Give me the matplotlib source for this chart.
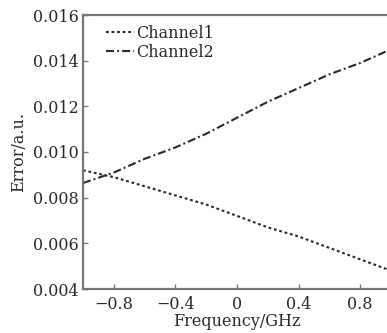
import matplotlib
matplotlib.use("Agg")
import matplotlib.pyplot as plt

freq = [-1.0, -0.8, -0.6, -0.4, -0.2, 0.0, 0.2, 0.4, 0.6, 0.8, 1.0]
channel1 = [0.0092, 0.0089, 0.0085, 0.0081, 0.0077, 0.0072, 0.0067, 0.0063, 0.0058, 0.0053, 0.0048]
channel2 = [0.00864, 0.0091, 0.0097, 0.0102, 0.0108, 0.0115, 0.0122, 0.0128, 0.0134, 0.0139, 0.0145]
xticks = [-0.8, -0.4, 0, 0.4, 0.8]
xticklabels = ["\u22120.8", "\u22120.4", "0", "0.4", "0.8"]
yticks = [0.004, 0.006, 0.008, 0.010, 0.012, 0.014, 0.016]
yticklabels = ["0.004", "0.006", "0.008", "0.010", "0.012", "0.014", "0.016"]

plt.rcParams['font.family'] = ['DejaVu Serif']
plt.rcParams['lines.scale_dashes'] = False

W, H = 387, 333
fig = plt.figure(figsize=(W / 100, H / 100), dpi=100)
left, right, top, bottom = 83, 391, 15, 289
ax = fig.add_axes([left / W, 1 - bottom / H, (right - left) / W, (bottom - top) / H])

ax.plot(freq, channel1, color="#2a2a2a", lw=1.5, dashes=[2.0, 2.0], label="Channel1")
ax.plot(freq, channel2, color="#2a2a2a", lw=1.5, dashes=[5.8, 2.2, 1.4, 2.2], label="Channel2")

ax.set_xlim(-1, 1)
ax.set_ylim(0.004, 0.016)
ax.set_xticks(xticks)
ax.set_xticklabels(xticklabels)
ax.set_yticks(yticks)
ax.set_yticklabels(yticklabels)

for s in ["left", "bottom", "top"]:
    ax.spines[s].set_color("#777777")
    ax.spines[s].set_linewidth(1.6)
ax.spines["right"].set_visible(False)

ax.tick_params(direction="in", length=3.5, width=1.0, color="#777777",
               labelsize=11.5, labelcolor="#2a2a2a")
ax.tick_params(axis="x", pad=5)
ax.tick_params(axis="y", pad=3)

ax.set_xlabel("Frequency/GHz", fontsize=11.5, color="#2a2a2a", labelpad=0)
ax.set_ylabel("Error/a.u.", fontsize=11.5, color="#2a2a2a", labelpad=4)

leg = ax.legend(loc="upper left", frameon=False, fontsize=11.5, handlelength=1.7,
                handletextpad=0.15, labelspacing=0.15, borderaxespad=0.2,
                bbox_to_anchor=(0.045, 1.0))
for t in leg.get_texts():
    t.set_color("#2a2a2a")

fig.savefig("out.png", dpi=100)
